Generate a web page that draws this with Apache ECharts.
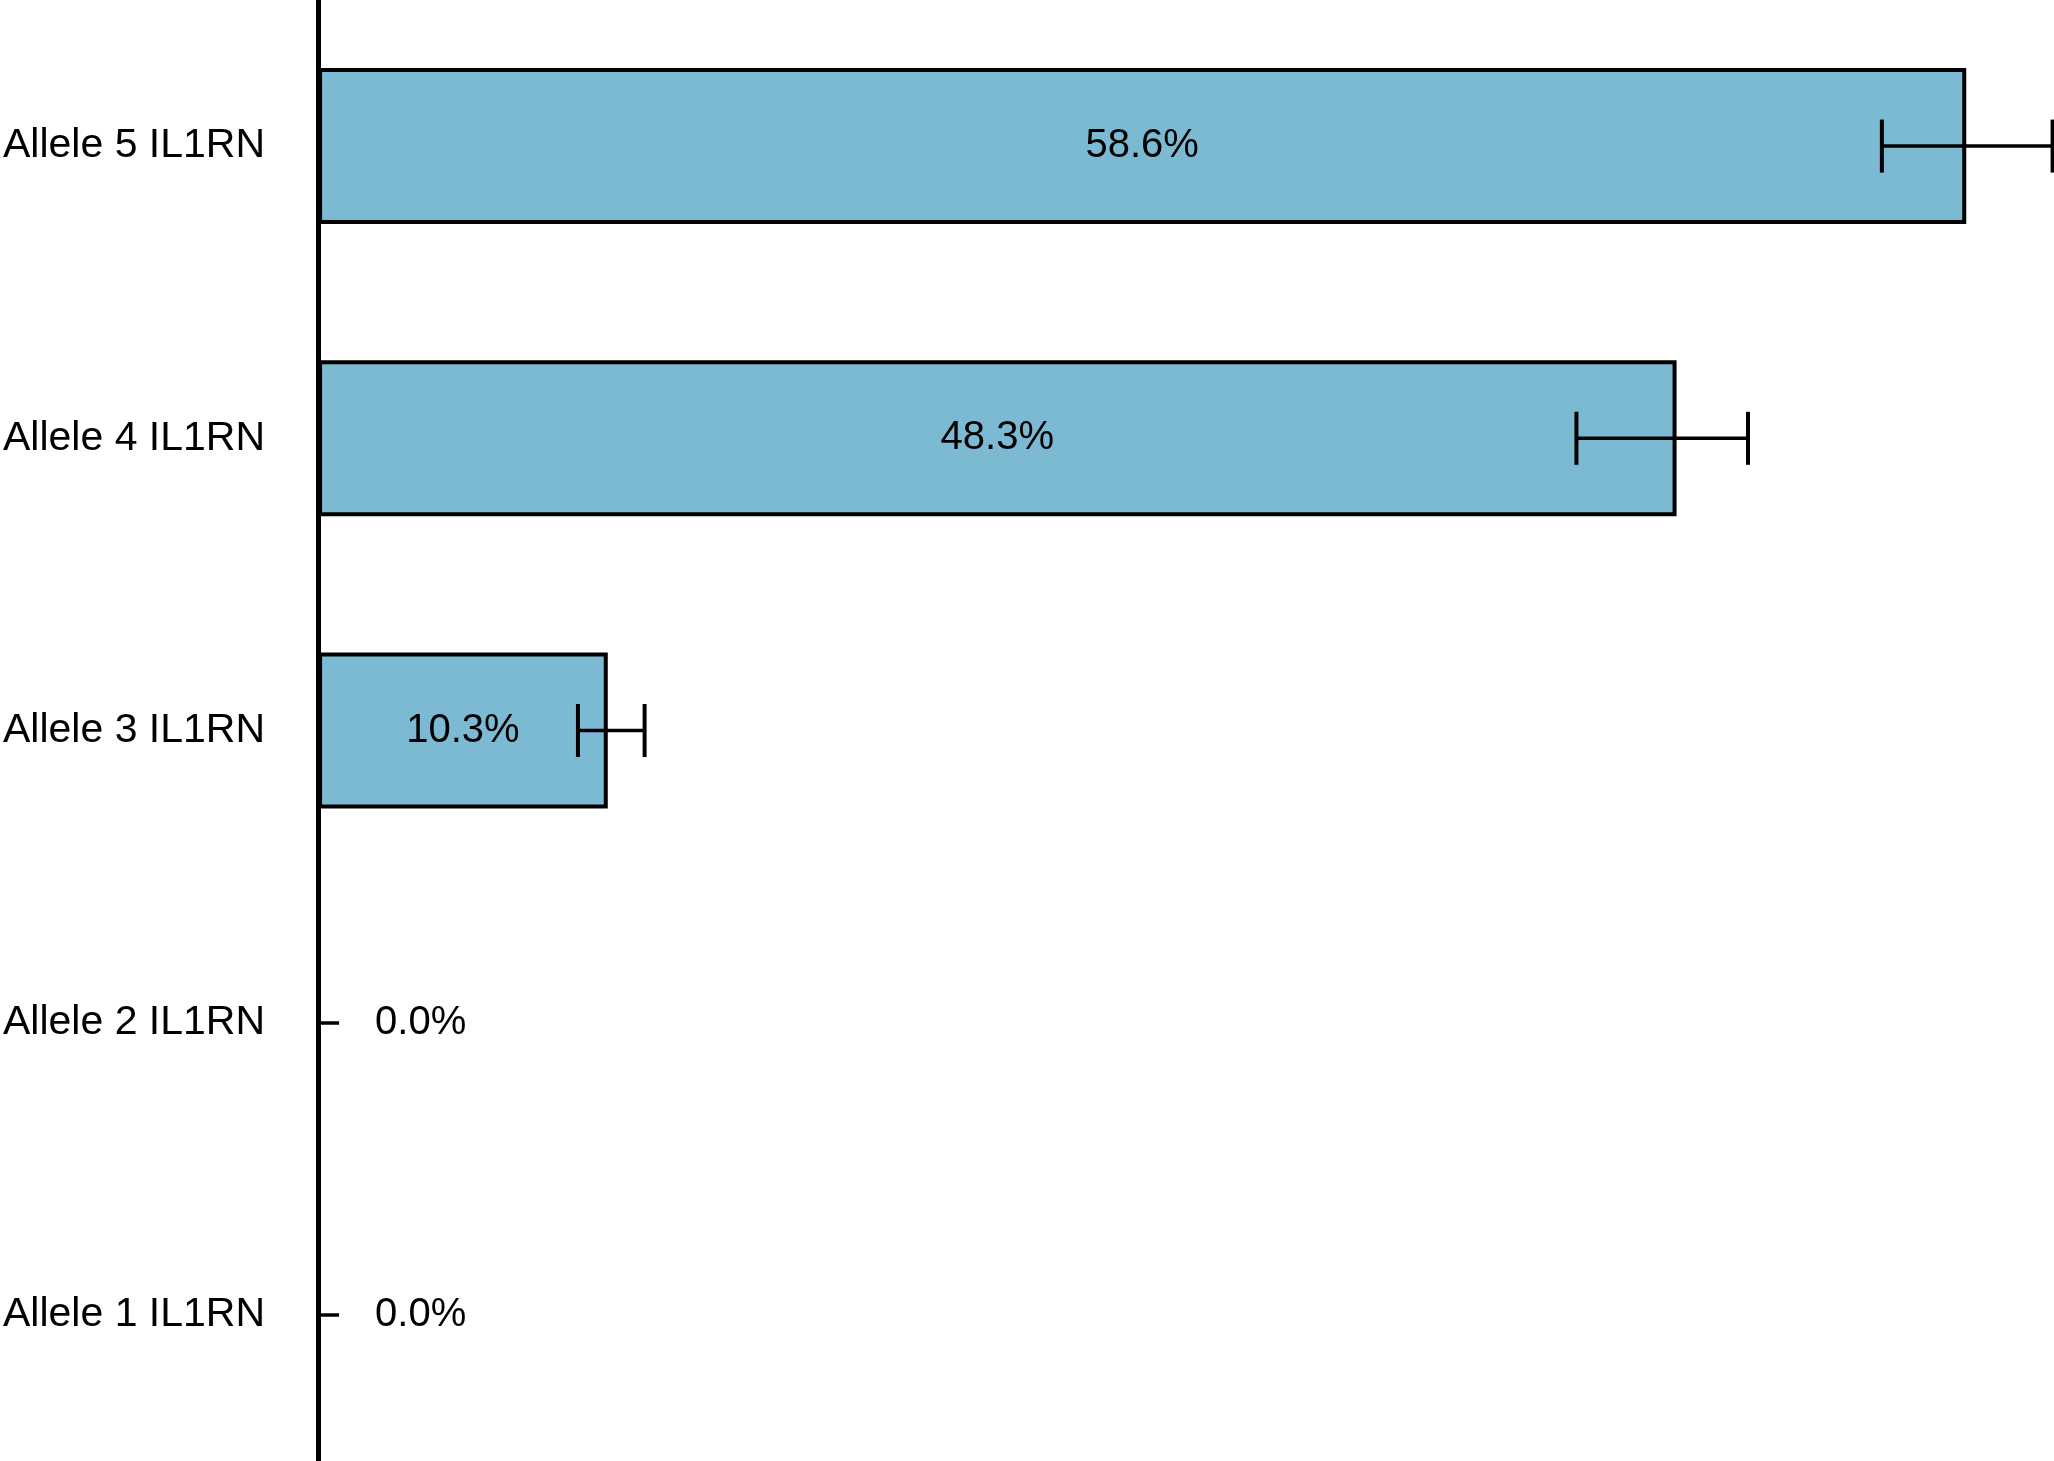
<!DOCTYPE html>
<html>
<head>
<meta charset="utf-8">
<script src="https://cdn.jsdelivr.net/npm/echarts@6/dist/echarts.min.js"></script>
<style>
html,body{margin:0;padding:0;background:#fff;}
#chart{width:2054px;height:1461px;}
</style>
</head>
<body>
<div id="chart"></div>
<script>
// Data (bottom to top on the category axis)
const categories = ['Allele 1 IL1RN', 'Allele 2 IL1RN', 'Allele 3 IL1RN', 'Allele 4 IL1RN', 'Allele 5 IL1RN'];
const values = [0.0, 0.0, 10.3, 48.3, 58.6];
const errLow = [null, null, 9.24, 44.74, 55.60];
const errHigh = [null, null, 11.61, 50.84, 61.67];

const FONT = '"Liberation Sans", Arial, Helvetica, sans-serif';

const barData = values.map(v => {
  if (v === 0) {
    return {
      value: v,
      itemStyle: { borderWidth: 0 },
      label: { position: 'right', distance: 57 }
    };
  }
  return { value: v };
});

const errData = [];
categories.forEach((c, i) => {
  if (errLow[i] !== null) errData.push([errLow[i], i, errHigh[i]]);
});

const chart = echarts.init(document.getElementById('chart'), null, { renderer: 'canvas' });
chart.setOption({
  backgroundColor: '#ffffff',
  animation: false,
  grid: { left: 316, right: 0, top: -8, bottom: -9, containLabel: false },
  xAxis: {
    type: 'value',
    min: 0,
    max: 61.72,
    show: false
  },
  yAxis: {
    type: 'category',
    data: categories,
    axisLine: { show: true, lineStyle: { color: '#000', width: 5 } },
    axisTick: { show: true, inside: true, length: 21, alignWithLabel: true, lineStyle: { color: '#000', width: 3.5 } },
    axisLabel: { color: '#000', fontSize: 41, fontFamily: FONT, margin: 53 },
    splitLine: { show: false }
  },
  series: [
    {
      type: 'bar',
      data: barData,
      barWidth: 156,
      z: 2,
      itemStyle: { color: '#7BBAD2', borderColor: '#000', borderWidth: 4 },
      label: {
        show: true,
        position: 'inside',
        color: '#000',
        fontSize: 40,
        fontFamily: FONT,
        formatter: p => p.value.toFixed(1) + '%'
      }
    },
    {
      type: 'custom',
      z: 5,
      clip: false,
      encode: { x: [0, 2], y: 1 },
      data: errData,
      renderItem: function (params, api) {
        const lo = api.value(0), cat = api.value(1), hi = api.value(2);
        const p1 = api.coord([lo, cat]);
        const p2 = api.coord([hi, cat]);
        const h = 26.5;
        return {
          type: 'group',
          children: [
            { type: 'line', shape: { x1: p1[0], y1: p1[1], x2: p2[0], y2: p2[1] }, style: { stroke: '#000', lineWidth: 3.5 } },
            { type: 'line', shape: { x1: p1[0], y1: p1[1] - h, x2: p1[0], y2: p1[1] + h }, style: { stroke: '#000', lineWidth: 4 } },
            { type: 'line', shape: { x1: p2[0], y1: p2[1] - h, x2: p2[0], y2: p2[1] + h }, style: { stroke: '#000', lineWidth: 4 } }
          ]
        };
      }
    }
  ]
});
</script>
</body>
</html>
